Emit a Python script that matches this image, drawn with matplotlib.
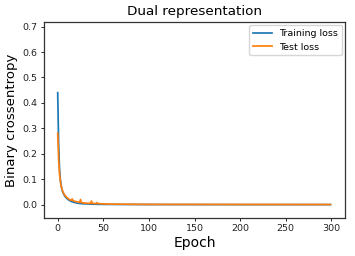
import matplotlib
matplotlib.use("Agg")
import matplotlib.pyplot as plt

train_epochs = [0, 1, 2, 3, 4, 5, 6, 8, 10, 13, 16, 20, 25, 30, 40, 50, 75, 100, 150, 200, 250, 299]
train_loss = [0.44, 0.24, 0.14, 0.095, 0.07, 0.055, 0.045, 0.032, 0.024, 0.016, 0.011, 0.007,
              0.004, 0.003, 0.0015, 0.001, 0.0005, 0.0003, 0.0002, 0.0001, 0.0001, 0.0001]

test_epochs = [0, 1, 2, 3, 4, 5, 6, 8, 10, 13, 15, 16, 17, 20, 24, 25, 26, 30, 36, 37, 38,
               42, 43, 44, 50, 60, 80, 100, 150, 200, 250, 299]
test_loss = [0.28, 0.18, 0.12, 0.09, 0.07, 0.057, 0.048, 0.036, 0.028, 0.02, 0.017, 0.022,
             0.015, 0.012, 0.009, 0.02, 0.008, 0.006, 0.005, 0.014, 0.005, 0.004, 0.008,
             0.004, 0.003, 0.002, 0.0015, 0.001, 0.0008, 0.0006, 0.0005, 0.0004]

fig = plt.figure(figsize=(3.55, 2.56), dpi=100)
ax = fig.add_axes([0.124, 0.150, 0.848, 0.763])
s = 0.68
ax.plot(train_epochs, train_loss, color="#1f77b4", lw=1.25, label="Training loss")
ax.plot(test_epochs, test_loss, color="#ff7f0e", lw=1.25, label="Test loss")
ax.set_xlim(-15, 315)
ax.set_ylim(-0.051, 0.717)
ax.set_xticks([0, 50, 100, 150, 200, 250, 300])
ax.set_yticks([0.0, 0.1, 0.2, 0.3, 0.4, 0.5, 0.6, 0.7])
ax.tick_params(labelsize=10 * s, width=0.7, length=3.5 * s, pad=3.5 * s, colors="#222222")
for sp in ax.spines.values():
    sp.set_linewidth(0.9)
    sp.set_color("#333333")
ax.set_title("Dual representation", fontsize=9.7, pad=5)
ax.set_xlabel("Epoch", fontsize=10, labelpad=2)
ax.set_ylabel("Binary crossentropy", fontsize=9.5, labelpad=3)
ax.legend(loc="upper right", fontsize=10 * s, frameon=True, borderaxespad=0.3)
fig.savefig("out.png", dpi=100)
